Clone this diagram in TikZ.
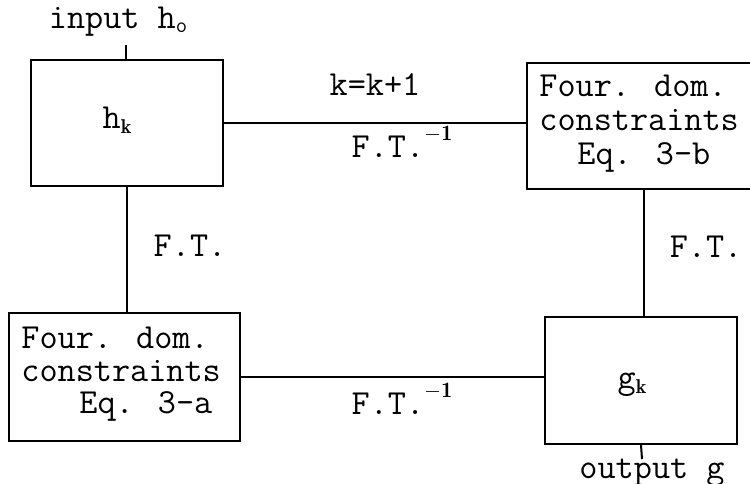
\documentclass[tikz,border=0pt]{standalone}
\usepackage{fontspec}
\begin{document}
\begin{tikzpicture}[x=0.5pt,y=-0.5pt,
  every node/.style={font=\ttfamily\fontsize{17.6}{19}\selectfont, inner sep=0pt},
  box/.style={draw, line width=1pt, minimum width=#1*0.5pt},
  wire/.style={line width=1pt},
  lbl/.style={anchor=base},
  line/.style={anchor=base west}]
\useasboundingbox (0,0) rectangle (750,483);
\begin{scope}
\clip (0,0) rectangle (750,483);
% boxes
\node[box=192, minimum height=63pt] (hk) at (127,123) {};
\node[box=233, minimum height=63pt] (tr) at (643.5,126) {};
\node[box=231, minimum height=64pt] (bl) at (124.5,377) {};
\node[box=192, minimum height=63.5pt] (gk) at (641,380.5) {};
% box texts
\node[lbl] (thk) at (117,128) {h\raisebox{-0.35ex}{\fontsize{10}{10}\selectfont$\mathbf{k}$}};
\node[lbl] (tgk) at (632,388) {g\raisebox{-0.35ex}{\fontsize{10}{10}\selectfont$\mathbf{k}$}};
\node[line] (tr1) at (539,96) {Four. dom.};
\node[line] (tr2) at (539,130) {constraints};
\node[line] (tr3) at (577,164) {Eq. 3-b};
\node[line] (bl1) at (21,348) {Four. dom.};
\node[line] (bl2) at (21,381) {constraints};
\node[line] (bl3) at (79,413) {Eq. 3-a};
% connectors
\draw[wire] (hk.east) -- (hk.east -| tr.west);
\draw[wire] (hk.south) -- (hk.south |- bl.north);
\draw[wire] (tr.south) -- (tr.south |- gk.north);
\draw[wire] (bl.east) -- (bl.east -| gk.west);
\coordinate (in) at (126,45);
\coordinate (out) at (642,459);
\draw[wire] (in) -- (in |- hk.north);
\draw[wire] (gk.south) -- (out);
% labels
\node[lbl] (input) at (118,28) {input h\raisebox{-0.3ex}{\fontsize{11}{11}\selectfont o}};
\node[lbl] (output) at (652,478) {output g};
\node[lbl] (kk) at (375,95) {k=k+1};
\node[lbl] (ift1) at (402,157) {F.T.\raisebox{1.1ex}{\fontsize{11}{11}\selectfont$-\mathbf{1}$}};
\node[lbl] (ft1) at (190,256) {F.T.};
\node[lbl] (ft2) at (706,257) {F.T.};
\node[lbl] (ift2) at (402,414) {F.T.\raisebox{1.1ex}{\fontsize{11}{11}\selectfont$-\mathbf{1}$}};
\end{scope}
\end{tikzpicture}
\end{document}
